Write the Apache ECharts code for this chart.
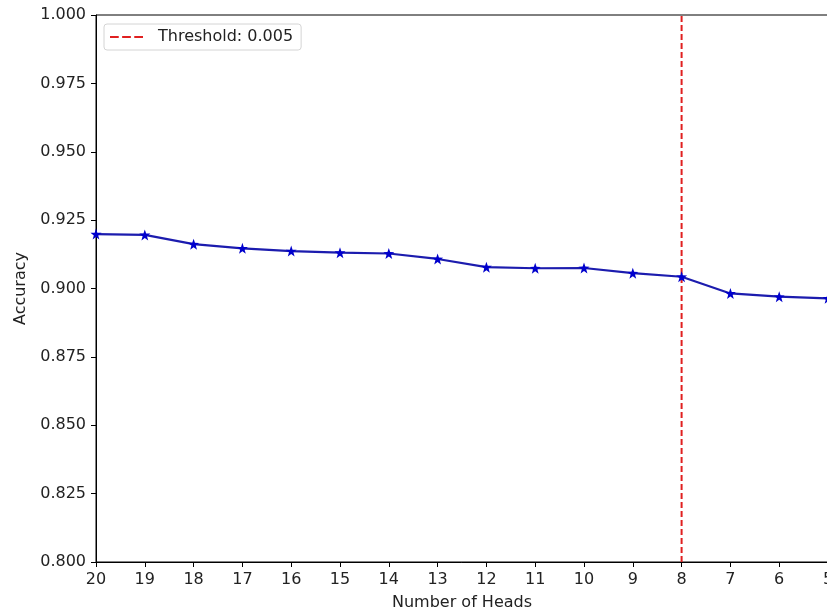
<!DOCTYPE html>
<html>
<head>
<meta charset="utf-8">
<script src="https://cdn.jsdelivr.net/npm/echarts@6/dist/echarts.min.js"></script>
<style>
  html, body { margin: 0; padding: 0; background: #fff; }
  #chart { width: 827px; height: 613px; }
</style>
</head>
<body>
<div id="chart"></div>
<script>
// number of heads kept (x)
const heads = [20, 19, 18, 17, 16, 15, 14, 13, 12, 11, 10, 9, 8, 7, 6, 5];
const accuracy = [0.9199, 0.9196, 0.9162, 0.9147, 0.9137, 0.9131, 0.9128, 0.9108,
                  0.9078, 0.9074, 0.9075, 0.9056, 0.9043, 0.8982, 0.8970, 0.8964];
const thresholdHeads = 8;
const thresholdName = 'Threshold: 0.005';
const yRange = [0.8, 1.0];

const chart = echarts.init(document.getElementById('chart'));
const font = 'DejaVu Sans';

let points = heads.map((h, i) => [h, accuracy[i]]);

// dashed icon for the legend (three dashes)
const dashIcon = 'path://M0,0 L9,0 L9,2 L0,2 Z M12.5,0 L21.5,0 L21.5,2 L12.5,2 Z M25,0 L34,0 L34,2 L25,2 Z';

chart.setOption({
  animation: false,
  textStyle: { fontFamily: font },
  grid: {
    left: 96, top: 15, width: 732, height: 547,
    outerBoundsMode: 'none', containLabel: false,
    show: true, borderColor: '#000', borderWidth: 1
  },
  legend: {
    left: 104, top: 24,
    data: [{ name: thresholdName, icon: dashIcon }],
    itemWidth: 33, itemHeight: 2, itemGap: 10,
    padding: [5, 8, 5, 6],
    borderColor: '#d4d4d4', borderWidth: 1, borderRadius: 3,
    textStyle: { fontFamily: font, fontSize: 16, color: '#222', padding: [0, 0, 0, 10] }
  },
  xAxis: {
    type: 'value', min: 5, max: 20, interval: 1, inverse: true,
    name: 'Number of Heads', nameLocation: 'middle', nameGap: 33,
    nameTextStyle: { fontFamily: font, fontSize: 16, color: '#222' },
    splitLine: { show: false },
    axisLine: { lineStyle: { color: '#000' } },
    axisTick: { length: 5, lineStyle: { color: '#000' } },
    axisLabel: { fontFamily: font, fontSize: 16, color: '#222', margin: 10 }
  },
  yAxis: {
    type: 'value', min: yRange[0], max: yRange[1], interval: 0.025,
    name: 'Accuracy', nameLocation: 'middle', nameGap: 67,
    nameTextStyle: { fontFamily: font, fontSize: 16, color: '#222' },
    splitLine: { show: false },
    axisLine: { show: true, lineStyle: { color: '#000' } },
    axisTick: { show: true, length: 5, lineStyle: { color: '#000' } },
    axisLabel: { fontFamily: font, fontSize: 16, color: '#222', margin: 10,
      formatter: v => v.toFixed(3) }
  },
  series: [
    {
      name: 'Accuracy',
      type: 'line',
      data: points,
      symbol: 'path://M0,-10 L2.35,-3.24 L9.51,-3.09 L3.8,1.24 L5.88,8.09 L0,4 L-5.88,8.09 L-3.8,1.24 L-9.51,-3.09 L-2.35,-3.24 Z',
      symbolSize: 11,
      lineStyle: { color: '#1c1cae', width: 2.2 },
      itemStyle: { color: '#0000cc' }
    },
    {
      name: thresholdName,
      type: 'line',
      data: [[thresholdHeads, yRange[0]], [thresholdHeads, yRange[1]]],
      symbol: 'none',
      lineStyle: { color: '#e02020', width: 2, type: [6, 3] },
      itemStyle: { color: '#e02020' }
    }
  ]
});
</script>
</body>
</html>
